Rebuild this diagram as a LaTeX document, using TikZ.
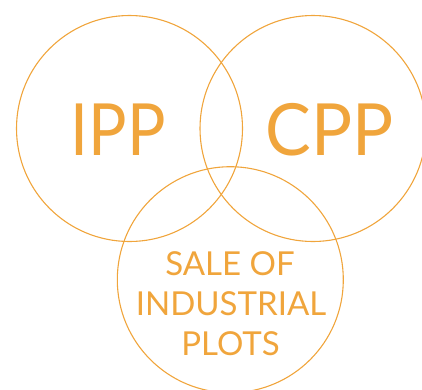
\documentclass[tikz,border=0pt]{standalone}
\usepackage{fontspec}
\setmainfont{Lato}
\definecolor{venn}{HTML}{F0A53C}
\begin{document}
\begin{tikzpicture}[x=1pt,y=-1pt,
  ring/.style={circle,draw=venn,line width=1.1pt,minimum size=226pt,inner sep=0pt},
  big/.style={text=venn,font=\fontsize{72}{72}\selectfont,inner sep=0pt,anchor=base},
  small/.style={text=venn,font=\fontsize{33}{39}\selectfont,inner sep=0pt,align=center,anchor=base}]
\useasboundingbox (0,0) rectangle (422,389);
\clip (0,0) rectangle (422,389);
\node[ring] (ipp) at (129.5,128.5) {};
\node[ring] (cpp) at (313,128.5) {};
\node[ring] (sale) at (230.3,279.7) {};
\node[big,xscale=0.89] (t1) at (118,155) {IPP};
\node[big,xscale=0.95] (t2) at (329.5,155) {CPP};
\node[small] (t3) at (230,275) {SALE OF};
\node[small] (t4) at (231,315) {INDUSTRIAL};
\node[small] (t5) at (230.5,355) {PLOTS};
\end{tikzpicture}
\end{document}
